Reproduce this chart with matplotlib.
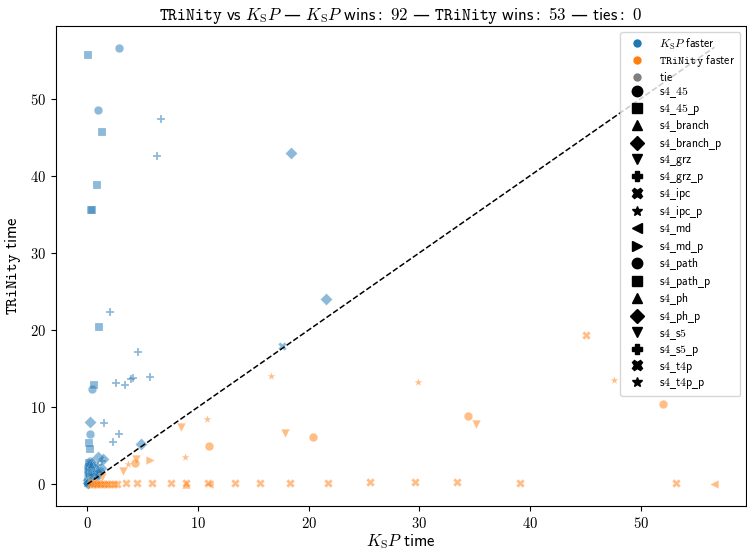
import matplotlib
matplotlib.use("Agg")
import matplotlib.pyplot as plt
from matplotlib.lines import Line2D
from matplotlib.ticker import FuncFormatter, MultipleLocator

plt.rcParams['mathtext.fontset'] = 'cm'
plt.rcParams['font.family'] = ['DejaVu Sans']
plt.rcParams['axes.unicode_minus'] = False

families = ["s4_45", "s4_45_p", "s4_branch", "s4_branch_p", "s4_grz", "s4_grz_p",
            "s4_ipc", "s4_ipc_p", "s4_md", "s4_md_p", "s4_path", "s4_path_p",
            "s4_ph", "s4_ph_p", "s4_s5", "s4_s5_p", "s4_t4p", "s4_t4p_p"]
family_markers = ["o", "s", "^", "D", "v", "P", "X", "*", "<", ">",
                  "o", "s", "^", "D", "v", "P", "X", "*"]

# K_S P faster (TRiNity time > K_S P time)
ksp_x = [2.85, 0.03, 0.99, 6.65, 1.35, 6.33, 18.4, 0.84, 0.30, 0.45,
         21.6, 2.07, 1.08, 17.6, 4.56, 5.64, 4.10, 3.94, 3.42, 2.55,
         0.63, 0.45, 0.27, 1.53, 0.21, 2.88, 2.28, 0.12, 0.27, 4.83,
         0.99, 1.44,
         0.02, 0.05, 0.08, 0.10, 0.12, 0.15, 0.18, 0.20, 0.22, 0.25,
         0.28, 0.30, 0.33, 0.35, 0.40, 0.45, 0.50, 0.55, 0.60, 0.70,
         0.80, 0.90, 1.00, 1.10, 1.20, 1.30, 0.03, 0.06, 0.09, 0.14,
         0.17, 0.21, 0.26, 0.31, 0.38, 0.42, 0.48, 0.52, 0.58, 0.65,
         0.75, 0.85, 0.95, 0.05, 0.10, 0.15, 0.20, 0.30, 0.40, 0.50,
         0.07, 0.13, 0.24, 0.36, 0.60, 0.02, 0.04, 0.11, 0.16, 0.19]
ksp_y = [56.5, 55.6, 48.5, 47.3, 45.6, 42.5, 42.9, 38.75, 35.5, 35.5,
         24.0, 22.3, 20.4, 17.9, 17.2, 13.9, 13.7, 13.6, 12.8, 13.1,
         12.8, 12.4, 8.1, 7.9, 6.5, 6.45, 5.5, 5.4, 4.5, 5.2,
         3.55, 3.2,
         0.05, 0.30, 0.60, 1.00, 1.40, 1.80, 2.20, 2.60, 3.00, 0.40,
         0.80, 1.20, 1.60, 2.00, 2.40, 2.80, 1.00, 1.50, 2.00, 1.30,
         1.80, 1.60, 2.50, 1.70, 2.10, 3.00, 0.80, 1.50, 2.00, 2.80,
         0.50, 1.10, 1.90, 2.60, 0.70, 1.30, 2.20, 0.80, 1.10, 1.90,
         0.90, 1.20, 1.40, 0.15, 0.25, 0.35, 0.30, 0.45, 0.55, 0.65,
         0.20, 0.60, 0.90, 1.00, 0.75, 0.10, 0.20, 0.40, 1.20, 1.70]
ksp_fam = ["s4_45", "s4_45_p", "s4_path", "s4_grz_p", "s4_45_p", "s4_s5_p", "s4_branch_p", "s4_path_p", "s4_45_p", "s4_path_p",
           "s4_ph_p", "s4_grz_p", "s4_45_p", "s4_ipc", "s4_grz_p", "s4_s5_p", "s4_grz_p", "s4_s5_p", "s4_grz_p", "s4_s5_p",
           "s4_path_p", "s4_45", "s4_branch_p", "s4_grz_p", "s4_path", "s4_s5_p", "s4_grz_p", "s4_45_p", "s4_path_p", "s4_ph_p",
           "s4_branch_p", "s4_ph_p",
           "s4_45", "s4_45_p", "s4_branch_p", "s4_45", "s4_path", "s4_45_p", "s4_path_p", "s4_branch_p", "s4_45", "s4_ph_p",
           "s4_grz_p", "s4_s5_p", "s4_45", "s4_path", "s4_45_p", "s4_branch_p", "s4_ph_p", "s4_grz_p", "s4_45", "s4_path_p",
           "s4_branch_p", "s4_grz_p", "s4_s5_p", "s4_path", "s4_ph_p", "s4_grz_p", "s4_45", "s4_path", "s4_45_p", "s4_path_p",
           "s4_45", "s4_branch", "s4_45_p", "s4_ph", "s4_45", "s4_path_p", "s4_branch_p", "s4_grz", "s4_45", "s4_md_p",
           "s4_path", "s4_45_p", "s4_ph_p", "s4_path", "s4_45_p", "s4_branch_p", "s4_ipc", "s4_45", "s4_t4p", "s4_path",
           "s4_45", "s4_grz", "s4_45_p", "s4_s5", "s4_md", "s4_path_p", "s4_ph_p", "s4_45", "s4_path", "s4_45_p"]

# TRiNity faster (TRiNity time < K_S P time)
tri_x = [8.45, 10.85, 10.97, 17.9, 8.79, 5.67, 4.40, 4.32, 3.69, 3.18,
         1.29, 20.4, 29.9, 34.4, 35.1, 16.6, 45.05, 47.6, 52.0, 8.90,
         10.97, 56.65,
         3.48, 4.53, 5.82, 7.53, 8.88, 10.88, 13.3, 15.6, 18.3, 21.7,
         25.5, 29.6, 33.4, 39.1, 53.2,
         0.35, 0.50, 0.60, 0.75, 0.90, 1.00, 1.15, 1.30, 1.50, 1.70,
         1.90, 2.10, 2.40, 2.70, 0.80, 0.45]
tri_y = [7.4, 8.5, 4.9, 6.6, 3.55, 3.1, 3.3, 2.7, 2.6, 1.65,
         0.9, 6.1, 13.3, 8.8, 7.75, 14.0, 19.3, 13.5, 10.4, 0.05,
         0.0, 0.05,
         0.1, 0.1, 0.1, 0.15, 0.1, 0.1, 0.15, 0.1, 0.2, 0.15,
         0.3, 0.3, 0.3, 0.2, 0.2,
         0.02, 0.05, 0.0, 0.05, 0.02, 0.1, 0.0, 0.05, 0.0, 0.02,
         0.0, 0.05, 0.0, 0.02, 0.3, 0.2]
tri_fam = ["s4_grz", "s4_ipc_p", "s4_45", "s4_s5", "s4_t4p_p", "s4_md_p", "s4_grz", "s4_path", "s4_ipc_p", "s4_s5",
           "s4_grz", "s4_45", "s4_t4p_p", "s4_path", "s4_s5", "s4_ipc_p", "s4_t4p", "s4_t4p_p", "s4_45", "s4_ph",
           "s4_md", "s4_md",
           "s4_t4p", "s4_t4p", "s4_t4p", "s4_t4p", "s4_t4p", "s4_t4p", "s4_t4p", "s4_t4p", "s4_t4p", "s4_t4p",
           "s4_t4p", "s4_t4p", "s4_t4p", "s4_t4p", "s4_t4p",
           "s4_t4p", "s4_ipc", "s4_t4p", "s4_ipc", "s4_t4p", "s4_ipc", "s4_t4p", "s4_ipc", "s4_t4p", "s4_ipc",
           "s4_t4p", "s4_ipc", "s4_t4p", "s4_ipc", "s4_branch", "s4_45_p"]

KSP = r"K_{\mathrm{S}}P"
TRI = r"\mathtt{TRiNity}"
hue_labels = [rf"${KSP}\ \mathsf{{faster}}$", rf"${TRI}\ \mathsf{{faster}}$", r"$\mathsf{tie}$"]
hue_colors = ["#1f77b4", "#ff7f0e", "#7f7f7f"]
n_ksp, n_tri, n_tie = len(ksp_x), len(tri_x), 0


def sf_label(name):
    # sans-serif (cmss) words joined by real underscores
    return "_".join(rf"$\mathsf{{{p}}}$" for p in name.split("_"))


fig = plt.figure(figsize=(7.47, 5.5), dpi=100)
ax = fig.add_axes([56 / 747, 1 - 506 / 550, 690 / 747, 480 / 550])

mk = dict(zip(families, family_markers))
for xs, ys, fs, col in [(ksp_x, ksp_y, ksp_fam, hue_colors[0]), (tri_x, tri_y, tri_fam, hue_colors[1])]:
    for fam in families:
        px = [x for x, f in zip(xs, fs) if f == fam]
        py = [y for y, f in zip(ys, fs) if f == fam]
        if px:
            ax.scatter(px, py, marker=mk[fam], s=38, color=col, alpha=0.5,
                       edgecolors="white", linewidths=0.25, zorder=2)

mx = max(max(ksp_x), max(tri_x))
ax.plot([0, mx], [0, mx], linestyle="--", color="black", linewidth=1.1, zorder=3)

ax.set_xlim(-2.83, 59.5)
ax.set_ylim(-2.83, 59.4)
ax.xaxis.set_major_locator(MultipleLocator(10))
ax.yaxis.set_major_locator(MultipleLocator(10))
fmt = FuncFormatter(lambda v, p: f"${v:g}$")
ax.xaxis.set_major_formatter(fmt)
ax.yaxis.set_major_formatter(fmt)
ax.tick_params(labelsize=10.5)

ax.set_xlabel(rf"${KSP}\ \mathsf{{time}}$", fontsize=12, labelpad=1)
ax.set_ylabel(rf"${TRI}\ \mathsf{{time}}$", fontsize=12, labelpad=5)
title = (rf"${TRI}\ \mathsf{{vs}}\ {KSP}$ — ${KSP}\ \mathsf{{wins:\ {n_ksp}}}$ — "
         rf"${TRI}\ \mathsf{{wins:\ {n_tri}}}$ — $\mathsf{{ties:\ {n_tie}}}$")
ax.set_title(title, fontsize=12.2, pad=4)

handles = [Line2D([], [], marker="o", linestyle="", color=c, markersize=5) for c in hue_colors]
labels = list(hue_labels)
for fam in families:
    handles.append(Line2D([], [], marker=mk[fam], linestyle="", color="black", markersize=7.5))
    labels.append(sf_label(fam))
ax.legend(handles, labels, loc="upper right", fontsize=8.5, borderaxespad=0.5,
          labelspacing=0.13, handletextpad=0.9, framealpha=0.8)

fig.savefig("out.png", dpi=100)
